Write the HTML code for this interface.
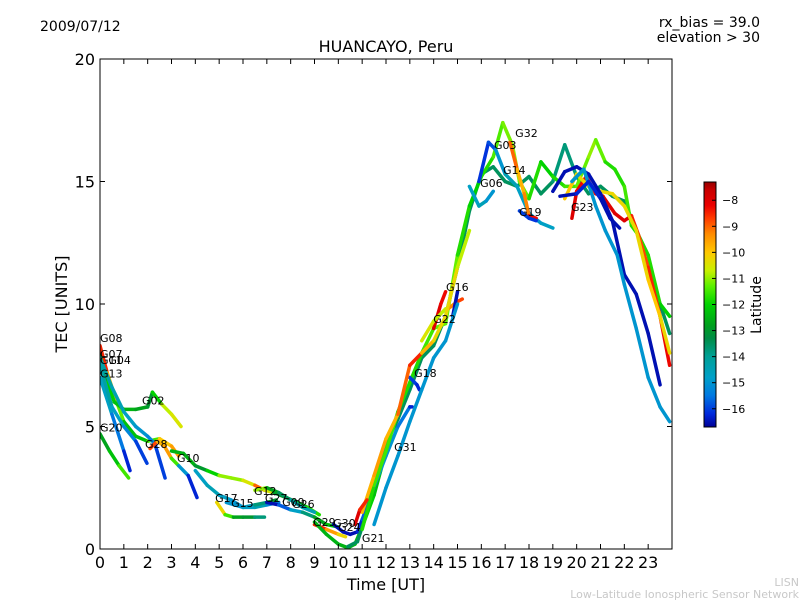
<!DOCTYPE html>
<html><head><meta charset="utf-8"><style>
body{margin:0;background:#fff;}
svg{display:block;font-family:"DejaVu Sans","Liberation Sans",sans-serif;}
</style></head><body>
<svg id="chart" width="800" height="600">
<text x="40" y="31" font-size="14">2009/07/12</text>
<text x="760" y="27" font-size="14" text-anchor="end">rx_bias = 39.0</text>
<text x="760" y="42" font-size="14" text-anchor="end">elevation &gt; 30</text>
<text x="386" y="52" font-size="16" text-anchor="middle">HUANCAYO, Peru</text>
<text x="386" y="590" font-size="16" text-anchor="middle">Time [UT]</text>
<text transform="translate(67,304) rotate(-90)" font-size="16" text-anchor="middle">TEC [UNITS]</text>
<text x="799" y="586" font-size="11" fill="#c8c8c8" text-anchor="end">LISN</text>
<text x="799" y="598" font-size="11" fill="#c8c8c8" text-anchor="end">Low-Latitude Ionospheric Sensor Network</text>
<defs><clipPath id="pc"><rect x="100" y="59" width="572" height="490"/></clipPath>
<linearGradient id="cgrad" x1="0" y1="1" x2="0" y2="0"></linearGradient></defs>
<g id="marks" clip-path="url(#pc)"></g>
<g id="labels"></g>
<rect x="100" y="59" width="572" height="490" fill="none" stroke="#000" stroke-width="1"/>
<g id="axes"></g>
<rect x="704" y="182" width="12" height="245" fill="url(#cgrad)" stroke="#000"/>
<g id="cbticks"></g>
<text transform="translate(761,305) rotate(-90)" font-size="14" text-anchor="middle">Latitude</text>
</svg>
<script>
const xTicks=[0,1,2,3,4,5,6,7,8,9,10,11,12,13,14,15,16,17,18,19,20,21,22,23];
const yTicks=[0,5,10,15,20];
const cbTicks=[-8,-9,-10,-11,-12,-13,-14,-15,-16];
const latMin=-16.7, latMax=-7.3;
const trackTimes=[
[0,0.3,0.7,1,1.5,2,2.5,3,3.3],
[0,0.3,0.6,1,1.5,2,2.2,2.6,3,3.4],
[0,0.5,1,1.26],
[0,0.5,1,1.5,1.97],
[0,0.5,1,1.5,2,2.3,2.73],
[0,0.4,0.8,1.2],
[2.1,2.4,2.7,3.0,3.3,3.7,4.07],
[3.0,3.5,4,4.5,5,5.5,6,6.5,6.9,7.3,7.8,8.3,8.7,9.2],
[4.0,4.5,5,5.5,6,6.5,7,7.5],
[4.9,5.25,5.6,6,6.5,6.9],
[5.3,6,6.5,7,7.4],
[7.0,7.5,8,8.5,9,9.5,10],
[6.5,7,7.5,8,8.5,9],
[9.0,9.5,10,10.3],
[9,9.5,10,10.4,10.7,11,11.5,12],
[9.8,10.2,10.5,10.8,11,11.3,11.6,12,12.5,13,13.1],
[10.4,10.8,11.2,11.6,12,12.5,13,13.5,14,14.5,15,15.5,16,16.5,17,17.5,18,18.5,19,19.5,20,20.5,21,21.5,22,22.5,23,23.5,23.9],
[11,11.5,12,12.5,13,13.5,14,14.5,15,15.5,16,16.5,16.9,17.3,17.6,18,18.5,19,19.5,20,20.5,20.8,21.2,21.6,22,22.3,22.6,23,23.5,23.9],
[15.9,16.3,16.6,17,17.5,18,18.5,19],
[15.5,15.9,16.2,16.5],
[17.2,17.5,17.8,18,18.3],
[17.6,18,18.3],
[19.8,20,20.4,20.8,21.1,21.6,22,22.3,22.6,23,23.5,23.9],
[19.5,20,20.5,21,21.5,22,22.5,23,23.5,23.9],
[19.0,19.5,20,20.5,21,21.5,22,22.5,23,23.5],
[19.8,20.3,20.8,21.2,21.7,22,22.5,23,23.5,23.9],
[19.3,20,20.5,21,21.4,21.8],
[14,14.3,14.5],
[14.6,15,15.2],
[14.8,15.0],
[13.5,14,14.5],
[13.0,13.3,13.4],
[11.5,12,12.5,13,13.5,14,14.5,15],
[11,11.5,12,12.5,13,13.5,14,14.5,15,15.5],
[10.7,10.9,11.2]
];
const trackTec=[
[8.3,7.2,6.0,5.2,4.6,4.4,4.5,4.2,3.8],
[7.9,6.8,6.0,5.7,5.7,5.8,6.4,5.9,5.5,5.0],
[7.0,5.5,4.0,3.2],
[7.5,5.8,5.0,4.4,3.5],
[7.8,6.6,5.6,5.0,4.6,4.3,2.9],
[4.7,4.0,3.4,2.9],
[4.1,4.4,4.2,3.7,3.4,3.0,2.1],
[4.0,3.9,3.4,3.2,3.0,2.9,2.8,2.6,2.4,2.3,2.1,1.9,1.7,1.4],
[3.2,2.6,2.2,2.0,1.7,1.7,1.8,1.9],
[1.9,1.4,1.3,1.3,1.3,1.3],
[1.9,1.7,1.8,1.9,2.0],
[1.9,1.8,1.6,1.5,1.3,1.0,0.9],
[2.4,2.5,2.3,2.0,1.7,1.5],
[1.0,0.8,0.6,0.5],
[1.1,0.6,0.2,0.05,0.2,0.9,2.2,4.0],
[1.0,0.7,0.6,0.7,1.2,2.0,2.8,3.8,5.0,5.8,5.8],
[0.1,0.3,1.5,3.0,4.3,5.3,6.5,7.8,8.3,9.5,11.5,13.8,15.3,15.6,15.0,14.8,15.2,14.5,15.0,16.5,15.2,14.5,14.8,14.4,14.2,13.0,11.5,10.0,8.8],
[0.8,2.6,4.0,5.6,6.8,8.0,9.0,9.2,12.0,14.0,15.2,16.0,17.4,16.5,15.0,14.3,15.8,15.2,14.8,14.8,16.0,16.7,15.8,15.5,14.8,13.2,12.8,12.0,10.0,9.5],
[15.0,16.6,16.3,15.3,14.8,13.7,13.3,13.1],
[14.8,14.0,14.2,14.6],
[16.6,15.5,14.5,13.6,13.5],
[13.8,13.5,13.4],
[13.5,14.6,15.2,14.5,14.4,13.7,13.4,13.6,12.8,11.5,9.5,7.5],
[14.3,15.3,14.8,14.6,14.5,14.0,13.0,11.0,9.5,8.0],
[14.6,15.4,15.6,15.3,14.5,13.4,11.2,10.4,8.8,6.7],
[15.0,15.5,14.0,13.0,12.0,10.8,9.0,7.0,5.8,5.2],
[14.4,14.5,15.0,14.3,13.5,13.1],
[9.0,10.0,10.5],
[9.8,10.1,10.2],
[9.5,10.5],
[8.5,9.3,9.8],
[7.0,6.7,6.5],
[1.0,2.5,3.8,5.2,6.5,7.8,8.5,10.0],
[1.5,3.0,4.5,5.5,7.5,8.0,8.5,9.5,11.5,13.0],
[1.0,1.6,2.0]
];
const trackLat=[
[-8,-9,-10.5,-12,-12.5,-12,-11,-9,-10],
[-13,-12,-12,-12.5,-12.5,-13,-13,-11,-10.5,-10.5],
[-14.5,-15,-16,-16.5],
[-14,-14.5,-15,-15.5,-16.5],
[-14,-14.5,-14.5,-15,-15,-15.5,-16.5],
[-13,-12.5,-12,-11],
[-8,-9.5,-10,-9,-14,-16,-16.5],
[-13,-12,-13,-13,-11,-11,-11,-10,-8,-13,-13,-13,-12,-11.5],
[-15,-14.5,-14.5,-15,-15,-14.5,-14.5,-16],
[-10,-10.5,-12.5,-13,-13,-14.5],
[-15,-15,-14.5,-13,-13],
[-16.5,-16.5,-15,-14.5,-13,-12.5,-12],
[-9.5,-12.5,-13,-14,-14.5,-14.5],
[-8,-9,-10,-10.5],
[-12.5,-12.5,-12.5,-12.5,-12.5,-12,-12,-12.5],
[-16.5,-16.5,-16.5,-16.5,-16,-15.5,-15,-15,-15,-16,-16.5],
[-13.5,-13.5,-13.5,-13.5,-13.5,-13.5,-13.5,-13.5,-13.5,-13.5,-13.5,-13.5,-13.5,-13.5,-13.5,-13.5,-13.5,-13.5,-13.5,-14,-13.5,-13.5,-13.5,-13.5,-13.5,-13.5,-13.5,-13.5,-13.5],
[-12,-11.5,-11.5,-11.5,-12,-11.5,-11.5,-11,-11.5,-12,-12,-11.5,-11.3,-11,-11,-11.5,-12,-12,-11.5,-11.5,-11,-11,-11.5,-12,-11.5,-11.5,-12,-11.5,-12,-12],
[-16,-16.2,-15.5,-14.5,-14.5,-15,-15,-14.5],
[-15,-14.5,-14.5,-15.5],
[-8.5,-9.5,-10,-8.5,-8],
[-16,-16,-16.2],
[-8,-8,-8.5,-8.5,-8,-8,-8,-8,-9,-8.5,-8.5,-8],
[-10,-10,-10.5,-10,-10.5,-10,-10.5,-10,-10,-10.5],
[-16.5,-16.5,-16.5,-16.5,-16.5,-16.5,-16.5,-16.5,-16.5,-16.5],
[-15,-15,-15,-15,-15,-15,-15,-15,-15,-15],
[-16.5,-16.5,-16,-16.5,-16.5,-16.5],
[-8,-8,-8.5],
[-9.5,-9,-8.5],
[-16.5,-16.5],
[-10.5,-10.5,-11],
[-16,-16,-16.5],
[-15,-15,-15,-15,-15,-15,-15,-15],
[-10,-9.5,-9.5,-10,-8,-9,-10.5,-10,-10.5,-11],
[-8,-8,-9]
];
const labelNames=["G08","G07","G11","G04","G13","G02","G20","G28","G10","G17","G15","G12","G27","G09","G26","G29","G30","G24","G21","G31","G18","G22","G16","G06","G03","G32","G14","G19","G23"];
const labelTimes=[0,0,0,0.35,0,1.76,0,1.89,3.23,4.83,5.5,6.46,6.92,7.64,8.06,8.94,9.78,9.99,10.99,12.34,13.18,13.98,14.52,15.95,16.53,17.42,16.91,17.58,19.76];
const labelTec=[8.45,7.8,7.55,7.55,7.0,5.9,4.8,4.12,3.55,1.92,1.71,2.2,1.92,1.75,1.67,0.94,0.9,0.74,0.29,4.0,7.02,9.22,10.53,14.78,16.33,16.82,15.31,13.59,13.8];

// colormap stops (latitude -> rgb)
const cmapLat=[-16.7,-16.2,-15.5,-14.8,-14.0,-13.3,-12.8,-12.0,-11.3,-10.7,-10.0,-9.3,-8.7,-8.2,-7.6,-7.3];
const cmapRGB=[[0,0,150],[0,40,220],[0,120,225],[0,160,200],[0,160,150],[0,140,70],[0,160,30],[0,210,0],[90,240,0],[200,240,0],[255,200,0],[255,140,0],[255,60,0],[235,0,0],[200,0,0],[150,0,0]];

const X0=100,X1=672,Y0=549,Y1=59,TMAX=24,VMAX=20;
function xs(t){return X0+t*(X1-X0)/TMAX;}
function ys(v){return Y0-v*(Y0-Y1)/VMAX;}
function cbY(l){return 427-(l-latMin)*245/(latMax-latMin);}
function cmap(l){
 if(l<=cmapLat[0])return `rgb(${cmapRGB[0].join(',')})`;
 for(let i=0;i<cmapLat.length-1;i++){
  if(l<=cmapLat[i+1]){const f=(l-cmapLat[i])/(cmapLat[i+1]-cmapLat[i]);
   const c=cmapRGB[i].map((a,k)=>Math.round(a+(cmapRGB[i+1][k]-a)*f));
   return `rgb(${c.join(',')})`;}
 }
 return `rgb(${cmapRGB[cmapRGB.length-1].join(',')})`;
}
const NS="http://www.w3.org/2000/svg";
const grad=document.getElementById('cgrad');
for(let i=0;i<cmapLat.length;i++){
 const s=document.createElementNS(NS,'stop');
 s.setAttribute('offset',(cmapLat[i]-latMin)/(latMax-latMin));
 s.setAttribute('stop-color',`rgb(${cmapRGB[i].join(',')})`);
 grad.appendChild(s);
}
const marks=document.getElementById('marks');
for(let i=0;i<trackTimes.length;i++){
 const tt=trackTimes[i],vv=trackTec[i],ll=trackLat[i];
 const g=document.createElementNS(NS,'g');
 
 
 for(let j=0;j<tt.length-1;j++){
  const ln=document.createElementNS(NS,'line');
  ln.setAttribute('x1',xs(tt[j]));ln.setAttribute('y1',ys(vv[j]));
  ln.setAttribute('x2',xs(tt[j+1]));ln.setAttribute('y2',ys(vv[j+1]));
  ln.setAttribute('stroke',cmap((ll[j]+ll[j+1])/2));
  ln.setAttribute('stroke-width','3.5');ln.setAttribute('stroke-linecap','round');
  
  
  g.appendChild(ln);
 }
 marks.appendChild(g);
}
const labels=document.getElementById('labels');
for(let i=0;i<labelNames.length;i++){
 const t=document.createElementNS(NS,'text');
 t.setAttribute('x',xs(labelTimes[i]));t.setAttribute('y',ys(labelTec[i]));
 t.setAttribute('font-size','11');t.textContent=labelNames[i];
 
 
 labels.appendChild(t);
}
const axes=document.getElementById('axes');
function mk(tag,attrs,txt){const e=document.createElementNS(NS,tag);for(const k in attrs)e.setAttribute(k,attrs[k]);if(txt!==undefined)e.textContent=txt;axes.appendChild(e);return e;}
xTicks.forEach(v=>{const x=xs(v);
 const a=mk('line',{x1:x,y1:Y0,x2:x,y2:Y0-5,stroke:'#000'});
 
 
 const b=mk('line',{x1:x,y1:Y1,x2:x,y2:Y1+5,stroke:'#000'});
 
 
 const t=mk('text',{x:x,y:568,'font-size':16,'text-anchor':'middle'},String(v));
 
 
});
yTicks.forEach(v=>{const y=ys(v);
 const a=mk('line',{x1:X0,y1:y,x2:X0+5,y2:y,stroke:'#000'});
 
 
 const b=mk('line',{x1:X1,y1:y,x2:X1-5,y2:y,stroke:'#000'});
 
 
 const t=mk('text',{x:95,y:y+6,'font-size':16,'text-anchor':'end'},String(v));
 
 
});
const cbg=document.getElementById('cbticks');
cbTicks.forEach(v=>{const y=cbY(v);
 const a=document.createElementNS(NS,'line');
 a.setAttribute('x1',716);a.setAttribute('x2',712);a.setAttribute('y1',y);a.setAttribute('y2',y);a.setAttribute('stroke','#000');
 
 
 cbg.appendChild(a);
 const t=document.createElementNS(NS,'text');
 t.setAttribute('x',722);t.setAttribute('y',y+4);t.setAttribute('font-size','11');t.textContent='\u2212'+Math.abs(v);
 
 
 cbg.appendChild(t);
});
</script>
</body></html>
